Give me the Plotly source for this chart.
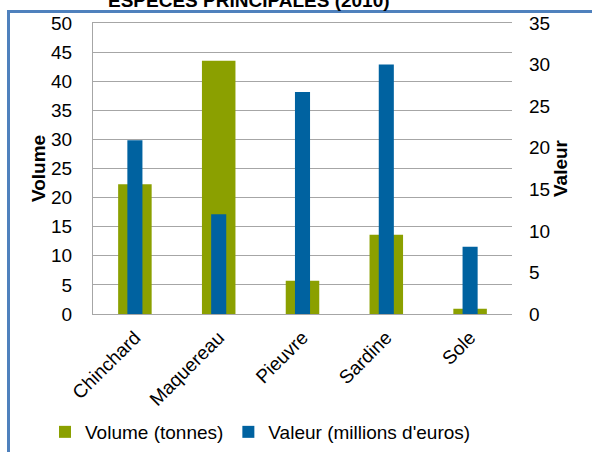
import plotly.graph_objects as go

categories = ["Chinchard", "Maquereau", "Pieuvre", "Sardine", "Sole"]
volume = [22.3, 43.5, 5.7, 13.6, 0.9]
valeur = [20.9, 12.0, 26.7, 30.0, 8.1]

GREEN = "#8BA000"
BLUE = "#0062A0"
FONT = "Liberation Sans, Arial, sans-serif"
FS = 19

fig = go.Figure()
fig.add_trace(go.Bar(x=categories, y=volume, name="Volume (tonnes)",
                     marker=dict(color=GREEN, line=dict(width=0)), width=0.4, yaxis="y"))
fig.add_trace(go.Bar(x=categories, y=valeur, name="Valeur (millions d'euros)",
                     marker=dict(color=BLUE, line=dict(width=0)), width=0.18, yaxis="y2"))

L, R, T, B = 93, 80, 23, 138
W, H = 592, 452
pw, ph = W - L - R, H - T - B

def px(x):
    return (x - L) / pw

def py(y):
    return (H - B - y) / ph

fig.update_layout(
    width=W, height=H,
    margin=dict(l=L, r=R, t=T, b=B, autoexpand=False),
    paper_bgcolor="white", plot_bgcolor="white",
    barmode="overlay",
    font=dict(family=FONT, size=FS, color="#000000"),
    xaxis=dict(tickangle=-45, showline=True, linecolor="#A6A6A6", linewidth=1,
               mirror=True, ticks="", tickfont=dict(size=FS), automargin=False,
               ticklabelstandoff=4),
    yaxis=dict(range=[0, 50], dtick=5, showgrid=True, gridcolor="#A6A6A6", gridwidth=1,
               showline=True, linecolor="#A6A6A6", linewidth=1, zeroline=False,
               ticks="", tickfont=dict(size=FS), automargin=False, ticklabelstandoff=16,
               title=dict(text="<b>Volume</b>", font=dict(size=FS), standoff=0)),
    yaxis2=dict(range=[0, 35], dtick=5, overlaying="y", side="right", showgrid=False,
                zeroline=False, showline=False, ticks="", tickfont=dict(size=FS),
                automargin=False, ticklabelstandoff=16,
                title=dict(text="<b>Valeur</b>", font=dict(size=FS), standoff=0)),
    legend=dict(orientation="h", x=px(45), xanchor="left", y=py(432), yanchor="middle",
                font=dict(size=FS), itemwidth=30, traceorder="normal"),
    showlegend=True,
    shapes=[dict(type="rect", xref="paper", yref="paper",
                 x0=px(8.5), x1=px(620), y0=py(480), y1=py(11.5),
                 line=dict(color="#4F81BD", width=3), fillcolor="rgba(0,0,0,0)", layer="above")],
    annotations=[dict(text="<b>ESPECES PRINCIPALES (2010)</b>", xref="paper", yref="paper",
                      x=px(249), y=py(0), xanchor="center", yanchor="middle", showarrow=False,
                      font=dict(size=19, family=FONT))],
)

fig.write_html("out.html")
